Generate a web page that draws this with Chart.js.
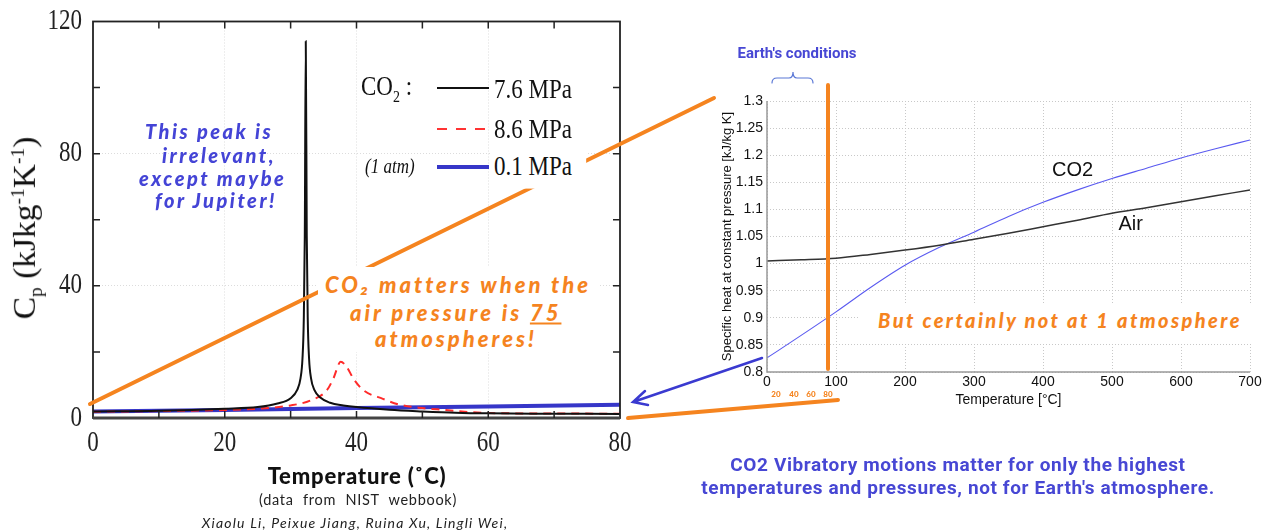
<!DOCTYPE html>
<html>
<head>
<meta charset="utf-8">
<script src="https://cdn.jsdelivr.net/npm/chart.js@4.4.1/dist/chart.umd.min.js"></script>
<style>
  body { margin: 0; width: 1267px; height: 531px; position: relative; background: #fff; overflow: hidden; }
  canvas { position: absolute; }
  .t { position: absolute; white-space: nowrap; z-index: 3; }
  .c { transform: translate(-50%, -50%); }
  .ser { font-family: 'Liberation Serif', serif; color: #111; }
  .tall { transform: translateY(-50%) scaleY(1.2); }
  .blue { font-family: Lato, sans-serif; font-weight: 900; font-style: italic; color: #4444d6; font-size: 20px; letter-spacing: 2.5px; transform: translateY(-50%); }
  .orange { font-family: Lato, sans-serif; font-weight: 900; font-style: italic; color: #f5841f; font-size: 22px; letter-spacing: 3px; transform: translateY(-50%); }
  .rob { font-family: Roboto, sans-serif; font-weight: bold; color: #4747d4; }
  .mini { font-family: Lato, sans-serif; font-weight: 900; font-size: 8px; color: #f5841f; }
</style>
</head>
<body>
<canvas id="leftChart" width="640" height="460" style="left:0;top:0"></canvas>
<canvas id="rightChart" width="567" height="340" style="left:700px;top:80px"></canvas>
<canvas id="deco" width="1267" height="531" style="left:0;top:0;z-index:2;pointer-events:none"></canvas>

<!-- left chart texts -->
<div class="t c ser" style="left:27px;top:228px;font-size:31px;transform:translate(-50%,-50%) rotate(-90deg) scaleX(1.08)">C<sub style="font-size:18px">p</sub> (kJkg<sup style="font-size:18px">-1</sup>K<sup style="font-size:18px">-1</sup>)</div>
<div class="t ser tall" style="left:361px;top:89px;font-size:23px">CO<sub style="font-size:14px">2</sub> :</div>
<div class="t" style="left:437px;top:87px;width:52px;height:2px;background:#111"></div>
<div class="t ser tall" style="left:494px;top:90px;font-size:23px">7.6 MPa</div>
<div class="t" style="left:437px;top:128px;width:53px;height:2px;background:repeating-linear-gradient(90deg,#ff3333 0 10px,transparent 10px 19px)"></div>
<div class="t ser tall" style="left:494px;top:130px;font-size:23px">8.6 MPa</div>
<div class="t ser tall" style="left:365px;top:167px;font-size:17px;font-style:italic">(1 atm)</div>
<div class="t" style="left:437px;top:165px;width:52px;height:4px;background:#3636c8"></div>
<div class="t ser tall" style="left:492px;top:168px;font-size:23px;background:#fff;padding:3px 14px 5px 2px">0.1 MPa</div>

<div class="t blue" style="left:145px;top:131px">This peak is</div>
<div class="t blue" style="left:162px;top:155px">irrelevant,</div>
<div class="t blue" style="left:139px;top:178px">except maybe</div>
<div class="t blue" style="left:155px;top:200px">for Jupiter!</div>

<div class="t" style="left:318px;top:267px;width:280px;height:85px;background:#fff;z-index:3"></div>
<div class="t orange" style="left:325px;top:284px">CO₂ matters when the</div>
<div class="t orange" style="left:350px;top:312px">air pressure is <u>75</u></div>
<div class="t orange" style="left:375px;top:338px">atmospheres!</div>

<div class="t c" style="left:357px;top:475px;font-family:Lato,sans-serif;font-weight:900;font-size:22px;color:#111;letter-spacing:0.8px">Temperature (˚C)</div>
<div class="t c" style="left:358px;top:499px;font-family:Lato,sans-serif;font-size:14.5px;color:#222;word-spacing:5px;letter-spacing:0.7px">(data from NIST webbook)</div>
<div class="t c" style="left:355px;top:522px;font-family:Lato,sans-serif;font-style:italic;font-size:14px;color:#222;letter-spacing:1.2px">Xiaolu Li, Peixue Jiang, Ruina Xu, Lingli Wei,</div>

<!-- right chart texts -->
<div class="t c rob" style="left:797px;top:53px;font-size:15px">Earth's conditions</div>
<div class="t" style="left:858px;top:303px;width:400px;height:40px;background:#fff"></div>
<div class="t orange" style="left:878px;top:320px;font-size:20px;letter-spacing:2.4px">But certainly not at 1 atmosphere</div>
<div class="t c mini" style="left:776px;top:394px">20</div>
<div class="t c mini" style="left:794px;top:394px">40</div>
<div class="t c mini" style="left:811px;top:394px">60</div>
<div class="t c mini" style="left:828px;top:394px">80</div>
<div class="t c rob" style="left:958px;top:476px;font-size:19px;letter-spacing:0.6px;text-align:center;line-height:23px">CO2 Vibratory motions matter for only the highest<br>temperatures and pressures, not for Earth's atmosphere.</div>

<script>
// left chart: CO2 Cp near the critical point (kJ/kg K)
const t76 = [0, 10, 20, 25, 28, 30, 31, 31.5, 31.8, 32.0, 32.15, 32.3, 32.45, 32.6, 32.8, 33.1, 33.6, 34.5, 36, 38, 40, 45, 50, 55, 60, 70, 80];
const cp76 = [2.0, 2.2, 2.8, 3.3, 4.4, 6.0, 8.5, 12, 18, 30, 55, 114, 55, 30, 18, 12, 8.5, 6.2, 4.6, 3.8, 3.3, 2.5, 2.0, 1.6, 1.4, 1.3, 1.2];
const t86 = [0, 10, 20, 25, 30, 33, 35.5, 36.5, 37.6, 38.5, 39.5, 41, 44, 46.6, 50, 53, 60, 70, 80];
const cp86 = [1.9, 2.1, 2.4, 2.8, 3.8, 5.3, 8.4, 12, 17, 15.5, 12, 8.5, 5.8, 4.0, 3.0, 2.5, 1.5, 1.35, 1.3];
const t01 = [0, 20, 40, 60, 80];
const cp01 = [2.0, 2.4, 3.0, 3.5, 4.0];

// right chart: specific heat at 1 atm, 0-700 C
const tHot = [0, 50, 100, 150, 200, 250, 300, 350, 400, 450, 500, 550, 600, 650, 700];
const cpAir = [1.005, 1.007, 1.010, 1.017, 1.025, 1.034, 1.045, 1.056, 1.068, 1.080, 1.093, 1.103, 1.114, 1.125, 1.136];
const cpCO2 = [0.826, 0.868, 0.911, 0.956, 0.997, 1.030, 1.058, 1.087, 1.113, 1.136, 1.157, 1.176, 1.195, 1.212, 1.228];

const pts = (xs, ys) => xs.map((v, i) => ({ x: v, y: ys[i] }));

// frame, inward ticks and tall serif labels like the old plot
const leftFrame = {
  id: 'leftFrame',
  afterDraw(chart) {
    const { ctx, chartArea: a, scales: { x, y } } = chart;
    ctx.save();
    ctx.strokeStyle = '#222';
    ctx.lineWidth = 1.8;
    ctx.strokeRect(a.left, a.top, a.right - a.left, a.bottom - a.top);
    ctx.lineWidth = 3;
    ctx.strokeStyle = '#444';
    ctx.beginPath(); ctx.moveTo(a.left, a.bottom); ctx.lineTo(a.right, a.bottom); ctx.stroke();
    ctx.lineWidth = 1.5;
    ctx.strokeStyle = '#222';
    ctx.beginPath();
    for (let v = 10; v < 80; v += 10) {
      const px = x.getPixelForValue(v);
      ctx.moveTo(px, a.bottom); ctx.lineTo(px, a.bottom - 7);
      ctx.moveTo(px, a.top); ctx.lineTo(px, a.top + 7);
    }
    for (let v = 20; v < 120; v += 20) {
      const py = y.getPixelForValue(v);
      ctx.moveTo(a.left, py); ctx.lineTo(a.left + 7, py);
      ctx.moveTo(a.right, py); ctx.lineTo(a.right - 7, py);
    }
    ctx.stroke();

    ctx.fillStyle = '#222';
    ctx.font = '23px "Liberation Serif"';
    ctx.textBaseline = 'middle';
    ctx.textAlign = 'center';
    x.ticks.forEach(t => {
      ctx.save();
      ctx.translate(x.getPixelForValue(t.value), a.bottom + 25);
      ctx.scale(1, 1.25);
      ctx.fillText(String(t.value), 0, 0);
      ctx.restore();
    });
    ctx.textAlign = 'right';
    y.ticks.forEach(t => {
      ctx.save();
      ctx.translate(a.left - 11, y.getPixelForValue(t.value));
      ctx.scale(1, 1.25);
      ctx.fillText(String(t.value), 0, 0);
      ctx.restore();
    });
    ctx.restore();
  }
};

new Chart(document.getElementById('leftChart'), {
  type: 'line',
  data: {
    datasets: [
      { label: '7.6 MPa', data: pts(t76, cp76), borderColor: '#111', borderWidth: 2, cubicInterpolationMode: 'monotone' },
      { label: '8.6 MPa', data: pts(t86, cp86), borderColor: '#ff2b2b', borderWidth: 2, borderDash: [8, 6], cubicInterpolationMode: 'monotone' },
      { label: '0.1 MPa', data: pts(t01, cp01), borderColor: '#3636c8', borderWidth: 4 }
    ]
  },
  options: {
    responsive: false,
    animation: false,
    layout: { padding: { top: 21.5, right: 20, left: 0, bottom: 0 } },
    elements: { point: { radius: 0 } },
    plugins: { legend: { display: false }, tooltip: { enabled: false } },
    scales: {
      x: {
        type: 'linear', min: 0, max: 80,
        afterFit: s => { s.height = 42; },
        ticks: { stepSize: 20, display: false },
        grid: { drawTicks: false, color: c => (c.tick && c.tick.value > 0 && c.tick.value < 80) ? '#dcdcdc' : 'transparent' },
        border: { display: false, dash: [1, 2] }
      },
      y: {
        min: 0, max: 120,
        afterFit: s => { s.width = 93; },
        ticks: { stepSize: 40, display: false },
        grid: { drawTicks: false, color: c => (c.tick && c.tick.value > 0 && c.tick.value < 120) ? '#dcdcdc' : 'transparent' },
        border: { display: false, dash: [1, 2] }
      }
    }
  },
  plugins: [leftFrame]
});

// axes lines + curve labels for the right plot
const rightDeco = {
  id: 'rightDeco',
  afterDraw(chart) {
    const { ctx, chartArea: a, scales: { x, y } } = chart;
    ctx.save();
    ctx.strokeStyle = '#999';
    ctx.lineWidth = 1.5;
    ctx.beginPath();
    ctx.moveTo(a.left, a.top); ctx.lineTo(a.left, a.bottom); ctx.lineTo(a.right, a.bottom);
    ctx.stroke();
    ctx.fillStyle = '#111';
    ctx.font = '20px "Liberation Sans"';
    ctx.textAlign = 'center';
    ctx.textBaseline = 'middle';
    ctx.fillText('CO2', x.getPixelForValue(443), y.getPixelForValue(1.172));
    ctx.fillText('Air', x.getPixelForValue(527), y.getPixelForValue(1.073));
    ctx.restore();
  }
};

new Chart(document.getElementById('rightChart'), {
  type: 'line',
  data: {
    datasets: [
      { label: 'Air', data: pts(tHot, cpAir), borderColor: '#333', borderWidth: 1.5, cubicInterpolationMode: 'monotone' },
      { label: 'CO2', data: pts(tHot, cpCO2), borderColor: '#5a5af0', borderWidth: 1.1, cubicInterpolationMode: 'monotone' }
    ]
  },
  options: {
    responsive: false,
    animation: false,
    layout: { padding: { top: 21, right: 17, left: 10, bottom: 0 } },
    elements: { point: { radius: 0 } },
    plugins: { legend: { display: false }, tooltip: { enabled: false } },
    scales: {
      x: {
        type: 'linear', min: 0, max: 700,
        afterFit: s => { s.height = 48; },
        ticks: { stepSize: 100, padding: 2, color: '#111', font: { family: 'Liberation Sans', size: 14 } },
        grid: { drawTicks: false, color: '#c8c8c8' },
        border: { display: false, dash: [1, 2] },
        title: { display: true, text: 'Temperature [°C]', color: '#111', font: { family: 'Liberation Sans', size: 14 }, padding: { top: 2, bottom: 11 } }
      },
      y: {
        min: 0.8, max: 1.3,
        afterFit: s => { s.width = 57; },
        ticks: { stepSize: 0.05, padding: 4, color: '#111', font: { family: 'Liberation Sans', size: 14 }, callback: v => String(+v.toFixed(2)) },
        grid: { drawTicks: false, color: '#c8c8c8' },
        border: { display: false, dash: [1, 2] },
        title: { display: true, text: 'Specific heat at constant pressure [kJ/kg K]', color: '#111', font: { family: 'Liberation Sans', size: 13 }, padding: { top: 10, bottom: 2 } }
      }
    }
  },
  plugins: [rightDeco]
});

// callout strokes joining the two plots
const d = document.getElementById('deco').getContext('2d');
d.lineCap = 'round';
d.strokeStyle = '#f5841f';
d.lineWidth = 4;
d.beginPath();
d.moveTo(90, 404); d.lineTo(714, 98);
d.moveTo(628, 418); d.lineTo(838, 400);
d.moveTo(828, 85); d.lineTo(828, 369);
d.stroke();

d.strokeStyle = '#3a3ad0';
d.lineWidth = 2.5;
d.beginPath();
d.moveTo(762, 358); d.lineTo(633, 402);
d.moveTo(645, 391); d.lineTo(633, 402); d.lineTo(648, 405);
d.stroke();

d.strokeStyle = '#5b78d6';
d.lineWidth = 1.2;
d.beginPath();
d.moveTo(772, 83); d.quadraticCurveTo(772, 78, 777, 78);
d.lineTo(789, 78); d.quadraticCurveTo(793, 78, 793, 72);
d.quadraticCurveTo(793, 78, 797, 78);
d.lineTo(808, 78); d.quadraticCurveTo(813, 78, 813, 83);
d.stroke();
</script>
</body>
</html>
